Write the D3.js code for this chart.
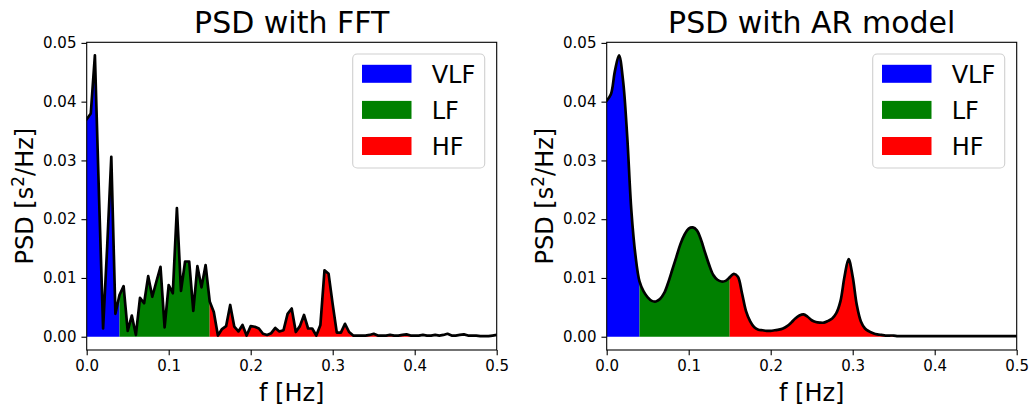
<!DOCTYPE html>
<html>
<head>
<meta charset="utf-8">
<script src="https://cdn.jsdelivr.net/npm/d3@7"></script>
<style>
  html, body { margin: 0; padding: 0; background: #fff; }
  svg { display: block; font-family: "DejaVu Sans", sans-serif; }
</style>
</head>
<body>
<svg id="chart" width="1034" height="405"></svg>
<script>
// Frequency grid of the spectra [Hz]
const freq = [
  0.000, 0.005, 0.010, 0.015, 0.020, 0.025, 0.030, 0.035, 0.040, 0.045,
  0.050, 0.055, 0.060, 0.065, 0.070, 0.075, 0.080, 0.085, 0.090, 0.095,
  0.100, 0.105, 0.110, 0.115, 0.120, 0.125, 0.130, 0.135, 0.140, 0.145,
  0.150, 0.155, 0.160, 0.165, 0.170, 0.175, 0.180, 0.185, 0.190, 0.195,
  0.200, 0.205, 0.210, 0.215, 0.220, 0.225, 0.230, 0.235, 0.240, 0.245,
  0.250, 0.255, 0.260, 0.265, 0.270, 0.275, 0.280, 0.285, 0.290, 0.295,
  0.300, 0.305, 0.310, 0.315, 0.320, 0.325, 0.330, 0.335, 0.340, 0.345,
  0.350, 0.355, 0.360, 0.365, 0.370, 0.375, 0.380, 0.385, 0.390, 0.395,
  0.400, 0.405, 0.410, 0.415, 0.420, 0.425, 0.430, 0.435, 0.440, 0.445,
  0.450, 0.455, 0.460, 0.465, 0.470, 0.475, 0.480, 0.485, 0.490, 0.495,
  0.500
];

// Periodogram (FFT) estimate [s^2/Hz]
const psdFFT = [
  0.0370, 0.0380, 0.0479, 0.0240, 0.0014, 0.0154, 0.0306, 0.0039, 0.0071, 0.0086,
  0.0010, 0.0036, 0.0003, 0.0066, 0.0057, 0.0103, 0.0068, 0.0094, 0.0119, 0.0016,
  0.0088, 0.0074, 0.0219, 0.0078, 0.0128, 0.0128, 0.0044, 0.0120, 0.0084, 0.0122,
  0.0060, 0.0042, 0.0002, 0.0013, 0.0018, 0.0054, 0.0017, 0.0009, 0.0020, 0.0002,
  0.0018, 0.0017, 0.0014, 0.0005, 0.0003, 0.0006, 0.0015, 0.0009, 0.0011, 0.0039,
  0.0048, 0.0008, 0.0018, 0.0037, 0.0014, 0.0014, 0.0002, 0.0020, 0.0113, 0.0107,
  0.0055, 0.0007, 0.0007, 0.0022, 0.0008, 0.0002, 0.0002, 0.0002, 0.0002, 0.0003,
  0.0005, 0.0002, 0.0002, 0.0002, 0.0003, 0.0002, 0.0002, 0.0003, 0.0004, 0.0002,
  0.0002, 0.0002, 0.0003, 0.0002, 0.0002, 0.0003, 0.0002, 0.0003, 0.0005, 0.0002,
  0.0002, 0.0003, 0.0004, 0.0002, 0.0002, 0.0002, 0.0001, 0.0001, 0.0001, 0.0002,
  0.0003
];

// Autoregressive model estimate [s^2/Hz]
const psdAR = [
  0.0402, 0.0412, 0.0452, 0.0479, 0.0435, 0.0341, 0.0216, 0.0139, 0.0094, 0.0077,
  0.0067, 0.0061, 0.0060, 0.0064, 0.0074, 0.0092, 0.0114, 0.0136, 0.0158, 0.0174,
  0.0184, 0.0186, 0.0181, 0.0165, 0.0143, 0.0122, 0.0105, 0.0097, 0.0094, 0.0095,
  0.0101, 0.0107, 0.0102, 0.0074, 0.0043, 0.0026, 0.0016, 0.0012, 0.0011, 0.0010,
  0.0010, 0.0011, 0.0012, 0.0014, 0.0018, 0.0024, 0.0031, 0.0036, 0.0038, 0.0034,
  0.0028, 0.0025, 0.0024, 0.0024, 0.0027, 0.0031, 0.0040, 0.0060, 0.0102, 0.0132,
  0.0102, 0.0054, 0.0026, 0.0014, 0.0009, 0.0006, 0.0004, 0.0003, 0.0002, 0.0002,
  0.0002, 0.0001, 0.0001, 0.0001, 0.0001, 0.0001, 0.0001, 0.0001, 0.0001, 0.0001,
  0.0001, 0.0001, 0.0001, 0.0001, 0.0001, 0.0001, 0.0001, 0.0001, 0.0001, 0.0001,
  0.0001, 0.0001, 0.0001, 0.0001, 0.0001, 0.0001, 0.0001, 0.0001, 0.0001, 0.0001,
  0.0001
];

// HRV frequency bands
const bandNames  = ["VLF", "LF", "HF"];
const bandLow    = [0.00, 0.04, 0.15];
const bandHigh   = [0.04, 0.15, 0.40];
const bandColors = ["#0000ff", "#008000", "#ff0000"];

const xTicks = [0.0, 0.1, 0.2, 0.3, 0.4, 0.5];
const yTicks = [0.00, 0.01, 0.02, 0.03, 0.04, 0.05];
const titles = ["PSD with FFT", "PSD with AR model"];

const svg = d3.select("#chart");
const defs = svg.append("defs");

const plotTop = 42.3, plotBottom = 350, plotWidth = 410;

function drawPanel(key, left, values, title, curve) {
  const x = d3.scaleLinear().domain([0, 0.5]).range([left, left + plotWidth]);
  const y = d3.scaleLinear().domain([-0.00226, 0.0501]).range([plotBottom, plotTop]);
  const g = svg.append("g");

  const area = d3.area()
    .x((d, i) => x(freq[i]))
    .y0(y(0))
    .y1(d => y(d))
    .curve(curve);
  const line = d3.line()
    .x((d, i) => x(freq[i]))
    .y(d => y(d))
    .curve(curve);

  // band fills, each clipped to its frequency range
  bandNames.forEach((name, b) => {
    const id = `clip-${key}-${name}`;
    defs.append("clipPath").attr("id", id)
      .append("rect")
      .attr("x", x(bandLow[b]))
      .attr("width", x(bandHigh[b]) - x(bandLow[b]))
      .attr("y", plotTop)
      .attr("height", plotBottom - plotTop);
    g.append("path")
      .datum(values)
      .attr("clip-path", `url(#${id})`)
      .attr("d", area)
      .attr("fill", bandColors[b]);
  });

  const frameId = `clip-${key}-frame`;
  defs.append("clipPath").attr("id", frameId)
    .append("rect")
    .attr("x", left).attr("y", plotTop)
    .attr("width", plotWidth).attr("height", plotBottom - plotTop);

  g.append("path")
    .datum(values)
    .attr("clip-path", `url(#${frameId})`)
    .attr("d", line)
    .attr("fill", "none")
    .attr("stroke", "#000")
    .attr("stroke-width", 2.7)
    .attr("stroke-linejoin", "round")
    .attr("stroke-linecap", "round");

  // axes
  const xAxis = g.append("g")
    .attr("transform", `translate(0,${plotBottom})`)
    .call(d3.axisBottom(x).tickValues(xTicks).tickFormat(d3.format(".1f"))
      .tickSize(5.25).tickPadding(5).tickSizeOuter(0));
  const yAxis = g.append("g")
    .attr("transform", `translate(${left},0)`)
    .call(d3.axisLeft(y).tickValues(yTicks).tickFormat(d3.format(".2f"))
      .tickSize(5.25).tickPadding(5).tickSizeOuter(0));
  [xAxis, yAxis].forEach(a => {
    a.select(".domain").remove();
    a.selectAll(".tick line").attr("stroke", "#000").attr("stroke-width", 1.1);
    a.selectAll(".tick text")
      .attr("fill", "#000")
      .style("font-family", "DejaVu Sans")
      .style("font-size", "15px");
  });

  // frame
  g.append("rect")
    .attr("x", left).attr("y", plotTop)
    .attr("width", plotWidth).attr("height", plotBottom - plotTop)
    .attr("fill", "none")
    .attr("stroke", "#000")
    .attr("stroke-width", 1.1);

  // title and axis labels
  g.append("text")
    .attr("x", left + plotWidth / 2).attr("y", 33.3)
    .attr("text-anchor", "middle")
    .style("font-size", "30px")
    .text(title);

  g.append("text")
    .attr("x", left + plotWidth / 2).attr("y", 400.5)
    .attr("text-anchor", "middle")
    .style("font-size", "24px")
    .text("f [Hz]");

  const yl = g.append("text")
    .attr("transform", `translate(${left - 54},${(plotTop + plotBottom) / 2}) rotate(-90)`)
    .attr("text-anchor", "middle")
    .style("font-size", "24px");
  yl.append("tspan").text("PSD [s");
  yl.append("tspan").attr("dy", -9).style("font-size", "17px").text("2");
  yl.append("tspan").attr("dy", 9).text("/Hz]");

  // legend
  const lg = g.append("g");
  const lx = left + plotWidth - 12 - 132;
  lg.append("rect")
    .attr("x", lx).attr("y", 54)
    .attr("width", 132).attr("height", 114)
    .attr("rx", 4.5)
    .attr("fill", "#fff").attr("fill-opacity", 0.8)
    .attr("stroke", "#d0d0d0").attr("stroke-width", 1.1);
  bandNames.forEach((name, b) => {
    const cy = 73.8 + b * 36.1;
    lg.append("rect")
      .attr("x", lx + 9.3).attr("y", cy - 9)
      .attr("width", 49.5).attr("height", 18)
      .attr("fill", bandColors[b]);
    lg.append("text")
      .attr("x", lx + 79).attr("y", cy + 8.7)
      .style("font-size", "24px")
      .text(name);
  });
}

drawPanel("fft", 86.7, psdFFT, titles[0], d3.curveLinear);
drawPanel("ar", 606.7, psdAR, titles[1], d3.curveCatmullRom.alpha(0.5));
</script>
</body>
</html>
